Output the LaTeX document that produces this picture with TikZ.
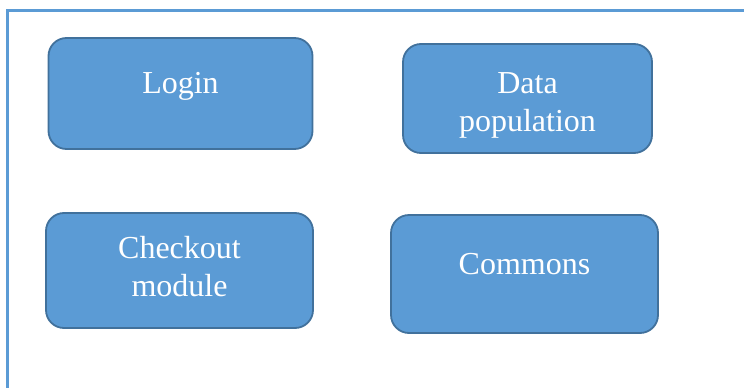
\documentclass[tikz,border=0pt]{standalone}
\usepackage{fontspec}
\setmainfont{Liberation Serif}
\definecolor{boxfill}{HTML}{5B9BD5}
\definecolor{boxline}{HTML}{41719C}
\definecolor{framecol}{HTML}{5B9BD5}
\tikzset{
  module/.style={draw=boxline, fill=boxfill, line width=1.8pt, rounded corners=18pt,
    text=white, align=center, inner sep=0pt, font=\fontsize{32}{38}\selectfont},
  oneline/.style={text height=12pt, text depth=12pt}
}
\begin{document}
\begin{tikzpicture}[x=1pt, y=-1pt]
  \useasboundingbox (0,0) rectangle (744,388);
  % outer frame (runs off the page right and bottom)
  \draw[framecol, line width=3pt] (7,388) -- (7,10) -- (744,10);
  % top row
  \node[module, oneline, minimum width=264pt, minimum height=111pt] (login) at (180.5,93.5) {Login};
  \node[module, text height=66pt, text depth=1pt, minimum width=249pt, minimum height=109pt] (datapop) at (527.5,98.5) {Data\\population};
  % bottom row
  \node[module, text depth=9pt, minimum width=267pt, minimum height=115pt] (checkout) at (179.5,270.5) {Checkout\\module};
  \node[module, oneline, minimum width=267pt, minimum height=118pt] (commons) at (524.5,274) {Commons};
\end{tikzpicture}
\end{document}
